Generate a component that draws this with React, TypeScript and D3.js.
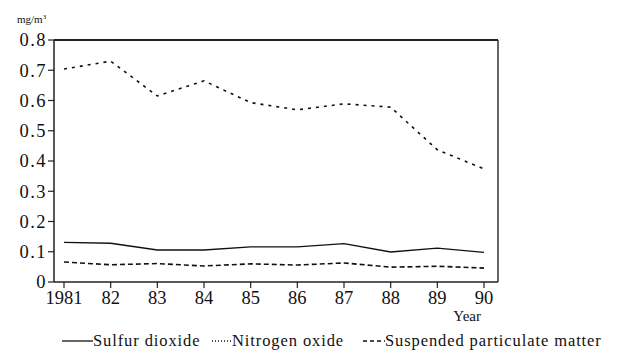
import React from 'react';
import * as d3 from 'd3';

const years = ['1981', '82', '83', '84', '85', '86', '87', '88', '89', '90'];
const sulfurDioxide = [0.131, 0.128, 0.106, 0.106, 0.116, 0.116, 0.127, 0.099, 0.112, 0.098];
const nitrogenOxide = [0.704, 0.73, 0.615, 0.665, 0.593, 0.569, 0.589, 0.578, 0.437, 0.374];
const suspendedMatter = [0.066, 0.057, 0.061, 0.053, 0.06, 0.056, 0.063, 0.049, 0.052, 0.046];
const yTicks = [0, 0.1, 0.2, 0.3, 0.4, 0.5, 0.6, 0.7, 0.8];

const series = [
    { name: 'Sulfur dioxide', values: sulfurDioxide, dash: null, legendDash: null },
    { name: 'Nitrogen oxide', values: nitrogenOxide, dash: '3,5', legendDash: '1,2' },
    { name: 'Suspended particulate matter', values: suspendedMatter, dash: '5,3', legendDash: '4,3' },
];

const App = () => {
    const width = 620;
    const height = 362;
    const left = 54;
    const right = 498;
    const top = 40;
    const bottom = 282;
    const font = '"Liberation Serif", "DejaVu Serif", serif';

    const x = d3.scalePoint<string>()
        .domain(years)
        .range([64, 484]);

    const y = d3.scaleLinear()
        .domain([0, 0.8])
        .range([bottom, top]);

    const line = d3.line<number>()
        .x((d, i) => x(years[i]) as number)
        .y(d => y(d));

    // legend sample positions
    const legendItems = [
        { x0: 62, x1: 93, tx: 93 },
        { x0: 212, x1: 232, tx: 232 },
        { x0: 363, x1: 385, tx: 385 },
    ];

    return (
        <svg width={width} height={height} style={{ position: 'absolute', left: 0, top: 0 }}>
            <rect width={width} height={height} fill="white" />
            {/* frame */}
            <line x1={left} x2={right} y1={top} y2={top} stroke="#222" strokeWidth={2} />
            <line x1={right} x2={right} y1={top} y2={bottom} stroke="#333" strokeWidth={1.5} />
            <line x1={left} x2={left} y1={top} y2={bottom} stroke="#222" strokeWidth={1.5} />
            <line x1={left} x2={right} y1={bottom} y2={bottom} stroke="#222" strokeWidth={1.5} />

            {yTicks.map(t => (
                <g key={t}>
                    <line x1={left - 6} x2={left} y1={y(t)} y2={y(t)} stroke="#222" strokeWidth={1.2} />
                    <text
                        x={left - 7}
                        y={y(t)}
                        dy="0.35em"
                        textAnchor="end"
                        fontSize={18.5}
                        letterSpacing={1.5}
                        fontFamily={font}
                        fill="#111"
                    >
                        {t === 0 ? '0' : t.toFixed(1)}
                    </text>
                </g>
            ))}

            {years.map(yr => (
                <g key={yr}>
                    <line x1={x(yr)} x2={x(yr)} y1={bottom} y2={bottom + 6} stroke="#222" strokeWidth={1.2} />
                    <text
                        x={x(yr)}
                        y={bottom + 22}
                        textAnchor="middle"
                        fontSize={18.5}
                        fontFamily={font}
                        fill="#111"
                    >
                        {yr}
                    </text>
                </g>
            ))}

            <text x={17} y={23} fontSize={11} fontFamily={font} fill="#111">
                mg/m<tspan fontSize={7} dy={-4}>3</tspan>
            </text>
            <text x={481} y={321} textAnchor="end" fontSize={15} fontFamily={font} fill="#111">Year</text>

            {series.map(s => (
                <path
                    key={s.name}
                    d={line(s.values) as string}
                    fill="none"
                    stroke="#111"
                    strokeWidth={s.dash ? 1.6 : 1.4}
                    strokeDasharray={s.dash ?? undefined}
                />
            ))}

            {series.map((s, i) => {
                const it = legendItems[i];
                return (
                    <g key={s.name}>
                        <line
                            x1={it.x0}
                            x2={it.x1}
                            y1={341}
                            y2={341}
                            stroke="#111"
                            strokeWidth={1.3}
                            strokeDasharray={s.legendDash ?? undefined}
                        />
                        <text x={it.tx} y={346} fontSize={16.5} letterSpacing={0.9} fontFamily={font} fill="#111">
                            {s.name}
                        </text>
                    </g>
                );
            })}
        </svg>
    );
};

export default App;
